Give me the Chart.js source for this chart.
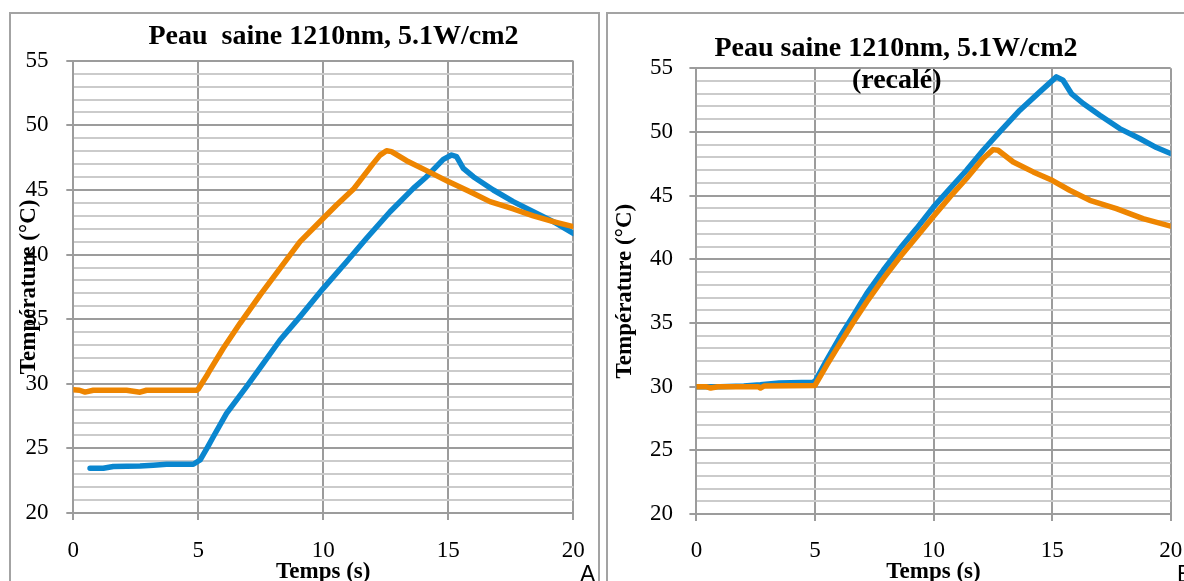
<!DOCTYPE html>
<html>
<head>
<meta charset="utf-8">
<script src="https://cdn.jsdelivr.net/npm/chart.js@4/dist/chart.umd.min.js"></script>
<style>
  html, body { margin: 0; padding: 0; background: #fff; }
  body { width: 1184px; height: 581px; overflow: hidden; position: relative; }
  .frame { position: absolute; top: 12px; height: 600px; border: 2px solid #a3a3a3; border-bottom: none; }
  #frameA { left: 9px; width: 587px; }
  #frameB { left: 606px; width: 640px; }
  canvas { position: absolute; top: 0; }
  #chartA { left: 0; }
  #chartB { left: 600px; }
</style>
</head>
<body>
<div class="frame" id="frameA"></div>
<div class="frame" id="frameB"></div>
<canvas id="chartA" width="600" height="581"></canvas>
<canvas id="chartB" width="584" height="581"></canvas>
<script>
// --- data (time in s, temperature in °C) ---
const timeA_orange = [0, 0.25, 0.47, 0.8, 2.13, 2.67, 2.93, 4.93, 5.0, 5.33, 5.47, 6.0, 6.67, 7.47, 8.27, 9.07, 10.0, 10.53, 11.2, 12.0, 12.27, 12.53, 12.73, 13.33, 14.13, 15.0, 15.87, 16.67, 17.6, 18.4, 19.2, 20.0];
const tempA_orange = [29.54, 29.5, 29.36, 29.5, 29.5, 29.35, 29.5, 29.5, 29.6, 30.6, 31.07, 32.75, 34.68, 36.87, 38.94, 41.0, 42.81, 43.84, 45.05, 47.06, 47.7, 48.04, 47.97, 47.27, 46.5, 45.65, 44.87, 44.1, 43.53, 42.99, 42.55, 42.16];

const timeA_blue = [0.67, 1.2, 1.6, 2.67, 3.2, 3.73, 4.8, 5.07, 5.4, 5.6, 6.13, 6.93, 7.6, 8.27, 9.07, 10.0, 10.93, 11.73, 12.67, 13.6, 14.13, 14.8, 15.13, 15.33, 15.6, 16.0, 16.8, 17.6, 18.4, 19.2, 20.0];
const tempA_blue = [23.46, 23.46, 23.6, 23.64, 23.7, 23.77, 23.77, 24.1, 25.2, 25.9, 27.71, 29.78, 31.58, 33.39, 35.2, 37.39, 39.45, 41.26, 43.32, 45.13, 46.03, 47.37, 47.71, 47.58, 46.68, 46.03, 45.0, 44.1, 43.32, 42.55, 41.65];

const timeB_blue = [0, 1.0, 2.0, 2.7, 3.5, 4.9, 5.0, 5.49, 6.05, 6.62, 7.18, 7.88, 8.58, 9.28, 10.0, 10.69, 11.39, 12.09, 12.79, 13.64, 14.48, 15.18, 15.46, 15.81, 16.31, 17.01, 17.85, 18.69, 19.4, 20.0];
const tempB_blue = [30.0, 30.0, 30.05, 30.15, 30.3, 30.35, 30.4, 32.07, 33.9, 35.6, 37.3, 39.14, 40.84, 42.41, 44.11, 45.55, 46.99, 48.56, 50.0, 51.7, 53.14, 54.32, 54.06, 53.01, 52.23, 51.31, 50.26, 49.48, 48.77, 48.3];

const timeB_orange = [0, 0.4, 0.6, 0.9, 2.6, 2.7, 2.85, 4.95, 5.0, 5.49, 6.05, 6.62, 7.18, 7.88, 8.58, 9.28, 10.0, 10.69, 11.39, 12.09, 12.51, 12.72, 13.36, 14.2, 15.0, 15.74, 16.59, 17.71, 18.83, 20.0];
const tempB_orange = [30.0, 30.0, 29.9, 30.0, 30.0, 29.9, 30.05, 30.1, 30.1, 31.68, 33.38, 35.08, 36.65, 38.48, 40.18, 41.75, 43.38, 44.9, 46.34, 47.91, 48.61, 48.56, 47.64, 46.86, 46.2, 45.42, 44.63, 43.98, 43.19, 42.6];

const xTicks = [0, 5, 10, 15, 20];
const yMin = 20, yMax = 55;

const BLUE = '#0a86cf';
const ORANGE = '#ee8500';
const GRID_MAJOR = '#9c9c9c';
const GRID_MINOR = '#cbcbcb';
const SERIF = "'Liberation Serif', serif";
const TICK_SIZE = 23;

function points(xs, ys) {
  return xs.map((x, i) => ({ x: x, y: ys[i] }));
}

// draws the chart titles and the panel letter as canvas text
function textPlugin(items) {
  return {
    id: 'panelText',
    afterDraw(chart) {
      const ctx = chart.ctx;
      ctx.save();
      ctx.fillStyle = '#000';
      ctx.textBaseline = 'alphabetic';
      items.forEach(it => {
        ctx.font = it.font;
        ctx.textAlign = it.align || 'center';
        ctx.fillText(it.text, it.x, it.y);
      });
      ctx.restore();
    }
  };
}

function makeChart(id, series, box, texts) {
  const ctx = document.getElementById(id);
  const isMajor = c => c.tick && Math.round(c.tick.value) % 5 === 0;
  const halfLabel = TICK_SIZE * 1.2 / 2;

  return new Chart(ctx, {
    type: 'line',
    data: {
      datasets: series.map(s => ({
        data: s.data,
        borderColor: s.color,
        borderWidth: 5.5,
        borderCapStyle: 'round',
        borderJoinStyle: 'round',
        pointRadius: 0,
        tension: 0,
        fill: false
      }))
    },
    options: {
      responsive: false,
      animation: false,
      layout: { padding: { left: 0, top: box.top, right: box.width - box.right, bottom: 0 } },
      plugins: { legend: { display: false }, tooltip: { enabled: false } },
      scales: {
        x: {
          type: 'linear',
          min: xTicks[0],
          max: xTicks[xTicks.length - 1],
          afterFit: s => {
            s.height = box.height - box.bottom;
            // keep the plot edges where they are in the picture
            s.paddingLeft = 0;
            s.paddingRight = 0;
          },
          afterBuildTicks: s => { s.ticks = xTicks.map(v => ({ value: v })); },
          ticks: {
            stepSize: 5,
            maxRotation: 0,
            padding: box.xLabelY - box.bottom - 7 - halfLabel,
            color: '#000',
            font: { family: SERIF, size: TICK_SIZE }
          },
          grid: { color: GRID_MAJOR, lineWidth: 2, tickLength: 7, tickColor: GRID_MAJOR },
          border: { color: GRID_MAJOR, width: 2 },
          title: {
            display: true,
            text: 'Temps (s)',
            color: '#000',
            font: { family: SERIF, size: 23, weight: 'bold', lineHeight: 0.8 },
            padding: { top: 0, bottom: 0 }
          }
        },
        y: {
          type: 'linear',
          min: yMin,
          max: yMax,
          afterFit: s => {
            s.width = box.left;
            s.paddingTop = 0;
            s.paddingBottom = 0;
          },
          ticks: {
            stepSize: 1,
            autoSkip: false,
            padding: box.left - 7 - box.yLabelRight,
            color: '#000',
            font: { family: SERIF, size: TICK_SIZE },
            callback: v => (v % 5 === 0 ? v : '')
          },
          grid: {
            color: c => (isMajor(c) ? GRID_MAJOR : GRID_MINOR),
            lineWidth: 2,
            tickLength: 7,
            tickColor: c => (isMajor(c) ? GRID_MAJOR : 'rgba(0,0,0,0)')
          },
          border: { color: GRID_MAJOR, width: 2 },
          title: {
            display: true,
            text: 'Température (°C)',
            color: '#000',
            font: { family: SERIF, size: 23, weight: 'bold', lineHeight: 1.2 },
            padding: { top: box.yTitleX - 13.8, bottom: 0 }
          }
        }
      }
    },
    plugins: [textPlugin(texts)]
  });
}

const TITLE_FONT = "bold 28px 'Liberation Serif', serif";
const LETTER_FONT = "23px 'Liberation Sans', sans-serif";

makeChart('chartA',
  [
    { data: points(timeA_orange, tempA_orange), color: ORANGE },
    { data: points(timeA_blue, tempA_blue), color: BLUE }
  ],
  { width: 600, height: 581, left: 73.3, top: 60.8, right: 573.3, bottom: 513,
    yTitleX: 29, yLabelRight: 48.5, xLabelY: 550.5 },
  [
    { text: 'Peau  saine 1210nm, 5.1W/cm2', x: 333.5, y: 44, font: TITLE_FONT },
    { text: 'A', x: 580, y: 582, font: LETTER_FONT, align: 'left' }
  ]
);

makeChart('chartB',
  [
    { data: points(timeB_orange, tempB_orange), color: ORANGE },
    { data: points(timeB_blue, tempB_blue), color: BLUE }
  ],
  { width: 584, height: 581, left: 96.4, top: 68.2, right: 570.7, bottom: 514.1,
    yTitleX: 25.5, yLabelRight: 73, xLabelY: 551 },
  [
    { text: 'Peau saine 1210nm, 5.1W/cm2', x: 296, y: 56, font: TITLE_FONT },
    { text: '(recalé)', x: 296.7, y: 88, font: TITLE_FONT },
    { text: 'B', x: 577, y: 582, font: LETTER_FONT, align: 'left' }
  ]
);
</script>
</body>
</html>
